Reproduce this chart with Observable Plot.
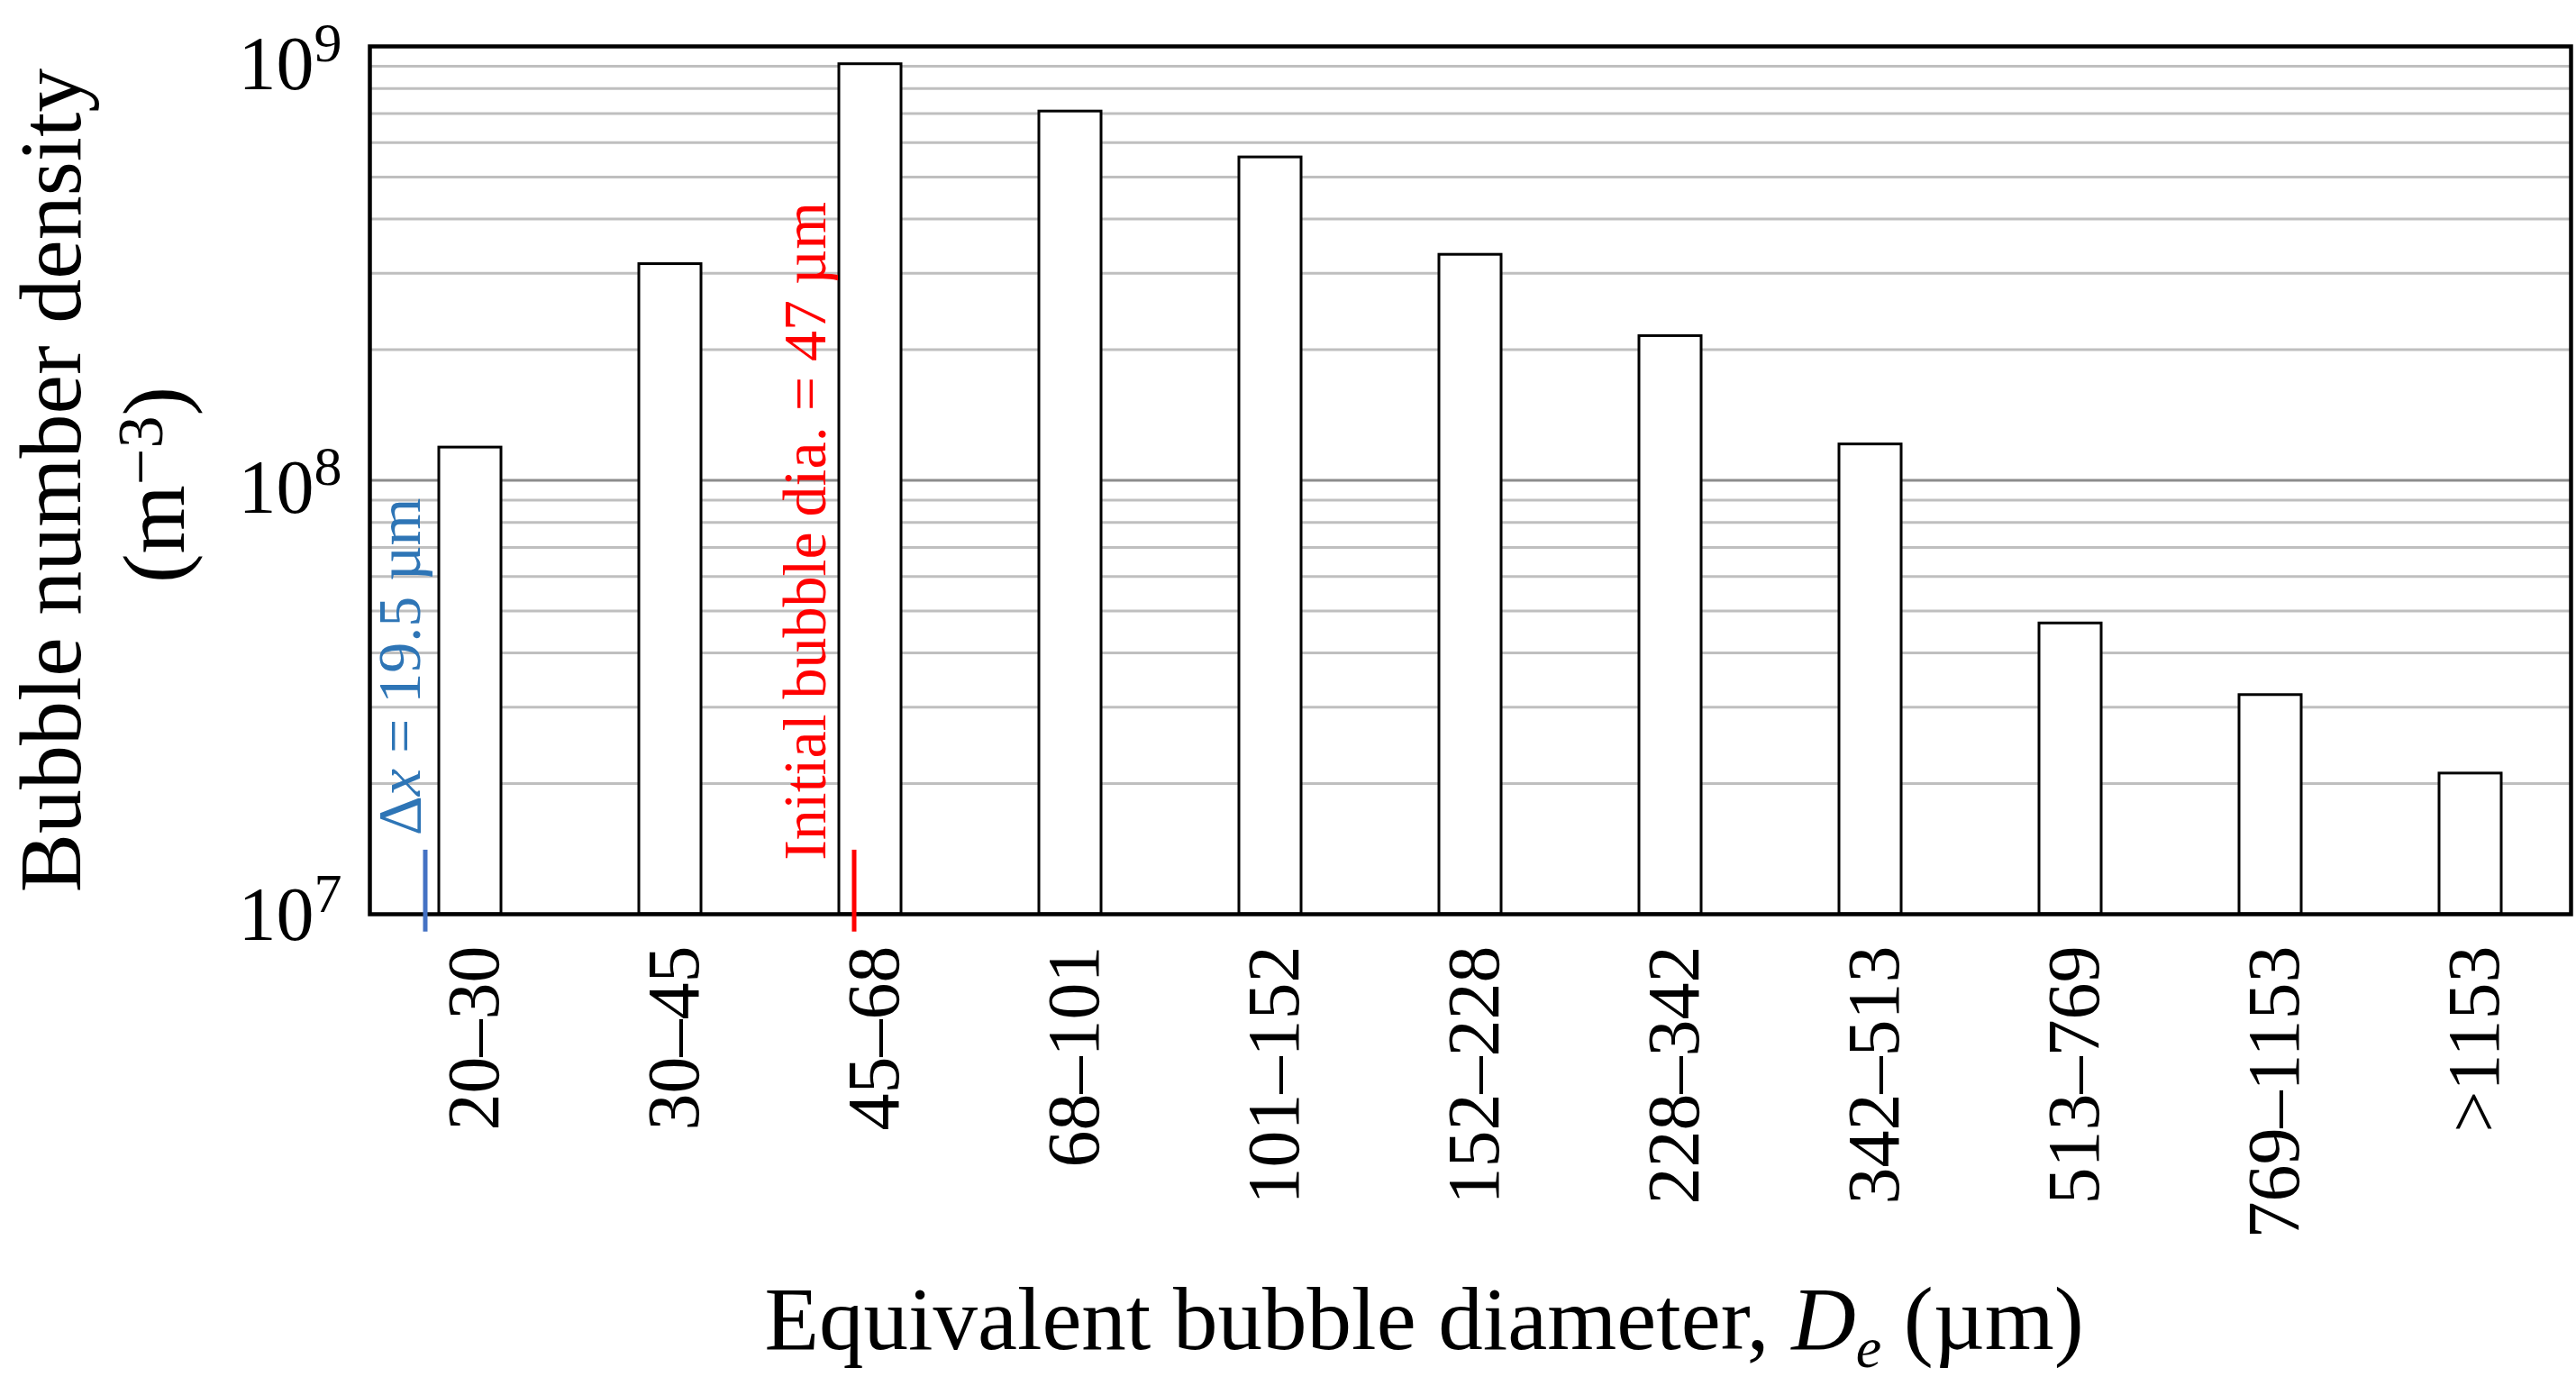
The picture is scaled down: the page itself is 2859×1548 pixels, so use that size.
<!DOCTYPE html>
<html>
<head>
<meta charset="utf-8">
<script src="https://cdn.jsdelivr.net/npm/d3@7"></script>
<script src="https://cdn.jsdelivr.net/npm/@observablehq/plot@0.6"></script>
<style>
  html, body { margin: 0; padding: 0; background: #fff; }
  svg { display: block; }
</style>
</head>
<body>
<div id="chart"></div>
<script>
// ---- data ----
const categories = ["20–30", "30–45", "45–68", "68–101", "101–152", "152–228", "228–342", "342–513", "513–769", "769–1153", ">1153"];
const densities = [1.19e8, 3.15e8, 9.1e8, 7.08e8, 5.55e8, 3.31e8, 2.15e8, 1.21e8, 4.68e7, 3.2e7, 2.11e7];
const yTicks = [1e7, 1e8, 1e9];
const minorGrid = [2e7, 3e7, 4e7, 5e7, 6e7, 7e7, 8e7, 9e7, 2e8, 3e8, 4e8, 5e8, 6e8, 7e8, 8e8, 9e8];
const majorGrid = [1e8];
const baseValue = 1e7;

// annotations
const annotBins = ["20–30", "45–68"];
const annotLabels = ["Δx = 19.5 µm", "Initial bubble dia. = 47 µm"];
const annotRuleLow = [9.1e6, 9.1e6];
const annotRuleHigh = [1.405e7, 1.405e7];
const annotTextStart = [1.52e7, 1.33e7];

const yTitleLines = ["Bubble number density", "(m^-3)"];
const xTitle = "Equivalent bubble diameter, De (µm)";

const bars = categories.map((c, i) => ({cat: c, value: densities[i]}));
const annots = annotBins.map((b, i) => ({bin: b, label: annotLabels[i], lo: annotRuleLow[i], hi: annotRuleHigh[i], ts: annotTextStart[i]}));

const FONT = "Liberation Serif";
const W = 2859, H = 1548;

const svg = Plot.plot({
  width: W,
  height: H,
  marginLeft: 410,
  marginRight: 6,
  marginTop: 51,
  marginBottom: 534,
  style: {fontFamily: FONT, background: "white", color: "black"},
  x: {type: "band", domain: categories, paddingInner: 0.69, paddingOuter: 0.345, axis: null},
  y: {type: "log", domain: [1e7, 1e9], axis: null},
  marks: [
    Plot.ruleY(minorGrid, {stroke: "#bfbfbf", strokeWidth: 3}),
    Plot.ruleY(majorGrid, {stroke: "#8c8c8c", strokeWidth: 3}),
    Plot.barY(bars, {x: "cat", y1: () => baseValue, y2: "value", fill: "white", stroke: "black", strokeWidth: 3}),
    Plot.frame({stroke: "black", strokeWidth: 4.5}),
    // annotation rules
    Plot.ruleX([annots[0]], {x: "bin", y1: "lo", y2: "hi", dx: -50, stroke: "#4472C4", strokeWidth: 5}),
    Plot.ruleX([annots[1]], {x: "bin", y1: "lo", y2: "hi", dx: -18, stroke: "#FF0000", strokeWidth: 5}),
    // annotation texts
    Plot.text([annots[0]], {x: "bin", y: "ts", text: "label", rotate: -90, textAnchor: "start", lineAnchor: "bottom",
      dx: -56, fontSize: 68, fill: "#2E75B6", fontFamily: FONT}),
    Plot.text([annots[1]], {x: "bin", y: "ts", text: "label", rotate: -90, textAnchor: "start", lineAnchor: "bottom",
      dx: -50, fontSize: 68, fill: "#FF0000", fontFamily: FONT}),
    // y axis tick labels
    Plot.axisY({ticks: yTicks, tickSize: 0, tickPadding: 31, fontSize: 84, label: null,
      tickFormat: d => "10^" + Math.round(Math.log10(d)), fontFamily: FONT}),
    // x tick labels
    Plot.text(categories, {x: d => d, frameAnchor: "bottom", rotate: -90, textAnchor: "end", lineAnchor: "bottom",
      dx: 31, dy: 35, fontSize: 82, fill: "black", fontFamily: FONT}),
    // y title
    Plot.text([yTitleLines[0]], {frameAnchor: "left", rotate: -90, textAnchor: "middle", lineAnchor: "bottom",
      dx: -322, fontSize: 98, fill: "black", fontFamily: FONT}),
    Plot.text([yTitleLines[1]], {frameAnchor: "left", rotate: -90, textAnchor: "middle", lineAnchor: "bottom",
      dx: -207, dy: 5, fontSize: 98, fill: "black", fontFamily: FONT}),
    // x title
    Plot.text([xTitle], {frameAnchor: "bottom-left", textAnchor: "start", lineAnchor: "bottom",
      dx: 438, dy: 482, fontSize: 99, fill: "black", fontFamily: FONT})
  ]
});

// ---- rich text (italics, sub/superscripts) ----
const NS = "http://www.w3.org/2000/svg";
function setRich(t, parts) {
  while (t.firstChild) t.removeChild(t.firstChild);
  for (const p of parts) {
    const ts = document.createElementNS(NS, "tspan");
    ts.textContent = p.text;
    if (p.italic) ts.setAttribute("font-style", "italic");
    if (p.size) ts.setAttribute("font-size", p.size);
    if (p.dy) ts.setAttribute("dy", p.dy);
    t.appendChild(ts);
  }
}
// the exponent labels sit a little below their gridline, more so near the top edge
const tickLabelShift = {"7": 2, "8": 9, "9": 21};
svg.querySelectorAll("text").forEach(t => {
  const s = t.textContent;
  let m;
  if ((m = s.match(/^10\^(\d+)$/))) {
    setRich(t, [{text: "10", dy: tickLabelShift[m[1]] || 0}, {text: m[1], size: 62, dy: -31}]);
  } else if (s === xTitle) {
    setRich(t, [{text: "Equivalent bubble diameter, "}, {text: "D", italic: true},
      {text: "e", italic: true, size: 64, dy: 20}, {text: " (µm)", dy: -20}]);
  } else if (s === yTitleLines[1]) {
    setRich(t, [{text: "(m"}, {text: "−3", size: 72, dy: -24}, {text: ")", dy: 24}]);
  } else if (s === annotLabels[0]) {
    setRich(t, [{text: "Δ"}, {text: "x", italic: true}, {text: " = 19.5 µm"}]);
  }
});

document.getElementById("chart").appendChild(svg);
</script>
</body>
</html>
